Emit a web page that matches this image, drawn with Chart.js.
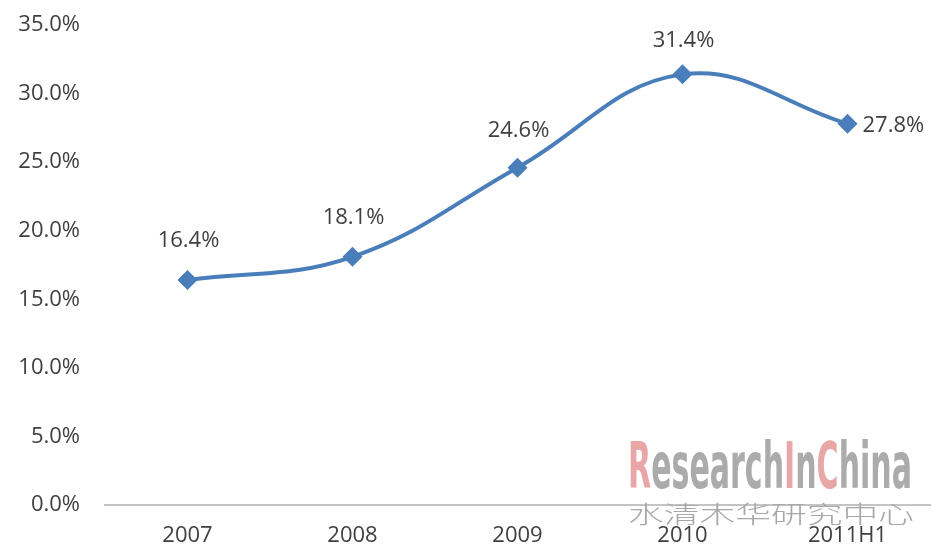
<!DOCTYPE html>
<html>
<head>
<meta charset="utf-8">
<script src="https://cdn.jsdelivr.net/npm/chart.js@4/dist/chart.umd.min.js"></script>
<style>
	body { margin: 0; background: #fff; }
	canvas { display: block; }
</style>
</head>
<body>
<canvas id="myChart" width="943" height="550"></canvas>
<script>
!(function(){
	'use strict';

	var categories = ['2007', '2008', '2009', '2010', '2011H1'];
	var shareValues = [16.4, 18.1, 24.6, 31.4, 27.8];
	var yTicks = { min: 0, max: 35, step: 5 };

	// where each value label sits relative to its point
	var labelPlace = ['above', 'above', 'above', 'above', 'right'];
	var labelGap = [39, 39, 37, 34, 0];

	var textFont = '"Open Sans", "Noto Sans", sans-serif';
	var lineBlue = '#4a7ebb';

	var valueLabels = {
		id: 'valueLabels',
		afterDatasetsDraw: function(chart){
			var ctx = chart.ctx;
			var meta = chart.getDatasetMeta(0);
			ctx.save();
			ctx.font = '22px ' + textFont;
			ctx.fillStyle = '#404040';
			ctx.textBaseline = 'middle';
			meta.data.forEach(function(pt, i){
				var txt = shareValues[i].toFixed(1) + '%';
				if (labelPlace[i] === 'right') {
					ctx.textAlign = 'left';
					ctx.fillText(txt, pt.x + 15, pt.y + 2);
				} else {
					ctx.textAlign = 'center';
					ctx.fillText(txt, pt.x + 1, pt.y - labelGap[i]);
				}
			});
			ctx.restore();
		}
	};

	var watermark = {
		id: 'watermark',
		afterDraw: function(chart){
			var ctx = chart.ctx;
			var parts = [['R', '#e8a6a6'], ['esearch', '#ababab'], ['I', '#e8a6a6'], ['n', '#ababab'], ['C', '#e8a6a6'], ['hina', '#ababab']];
			ctx.save();
			ctx.font = 'bold 64px "DejaVu Sans Condensed", "Liberation Sans Narrow", sans-serif';
			var total = 0;
			parts.forEach(function(p){ total += ctx.measureText(p[0]).width; });
			ctx.translate(628, 488);
			ctx.scale(284 / total, 1);
			ctx.textBaseline = 'alphabetic';
			var x = 0;
			parts.forEach(function(p){
				ctx.fillStyle = p[1];
				ctx.fillText(p[0], x, 0);
				x += ctx.measureText(p[0]).width;
			});
			ctx.restore();

			ctx.save();
			ctx.font = '300 24px "Noto Sans CJK SC", sans-serif';
			ctx.fillStyle = '#a8a8a8';
			ctx.textBaseline = 'middle';
			var cw = ctx.measureText('水清木华研究中心').width;
			ctx.translate(628, 514);
			ctx.scale(286 / cw, 1);
			ctx.fillText('水清木华研究中心', 0, 0);
			ctx.restore();
		}
	};

	var ctx = document.getElementById('myChart').getContext('2d');
	var myChart = new Chart(ctx, {
		type: 'line',
		data: {
			labels: categories,
			datasets: [{
				data: shareValues,
				borderColor: lineBlue,
				backgroundColor: lineBlue,
				borderWidth: 4,
				tension: 0.4,
				fill: false,
				pointStyle: 'rectRot',
				pointRadius: 10,
				pointHoverRadius: 10,
				pointBorderWidth: 0
			}]
		},
		options: {
			responsive: false,
			animation: false,
			events: [],
			layout: { padding: { top: 25, right: 13, left: 0, bottom: 0 } },
			plugins: {
				legend: { display: false },
				tooltip: { enabled: false }
			},
			scales: {
				x: {
					offset: true,
					grid: { display: false, drawTicks: false },
					border: { display: true, color: '#c4c4c4', width: 2 },
					ticks: { color: '#404040', font: { size: 22, family: textFont }, padding: 18, maxRotation: 0 },
					afterFit: function(scale){ scale.height = 45; scale.paddingLeft = 0; scale.paddingRight = 0; }
				},
				y: {
					min: yTicks.min,
					max: yTicks.max,
					grid: { display: false, drawTicks: false },
					border: { display: false },
					ticks: {
						stepSize: yTicks.step,
						color: '#404040',
						font: { size: 22, family: textFont },
						padding: 25,
						callback: function(v){ return v.toFixed(1) + '%'; }
					},
					afterFit: function(scale){ scale.width = 105; scale.paddingTop = 0; scale.paddingBottom = 0; }
				}
			}
		},
		plugins: [valueLabels, watermark]
	});
})();
</script>
</body>
</html>
